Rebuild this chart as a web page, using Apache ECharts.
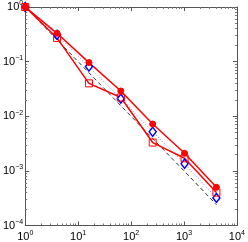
<!DOCTYPE html>
<html>
<head>
<meta charset="utf-8">
<script src="https://cdn.jsdelivr.net/npm/echarts@6/dist/echarts.min.js"></script>
<style>html,body{margin:0;padding:0;background:#fff}#c{width:248px;height:242px}</style>
</head>
<body>
<div id="c"></div>
<script>
var xValues = [1, 4, 16, 64, 256, 1024, 4096];
var seriesStar = [1, 0.33, 0.096, 0.029, 0.0072, 0.0021, 0.0005];
var seriesSquare = [1, 0.27, 0.040, 0.022, 0.0033, 0.0017, 0.0004];
var seriesDiamond = [1, 0.31, 0.081, 0.021, 0.0052, 0.00135, 0.00032];
var seriesRef = [1, 0.25, 0.0625, 0.0156, 0.0039, 0.00098, 0.00024];
var xMajorTicks = [1, 10, 100, 1000, 10000];
var yMajorTicks = [0.0001, 0.001, 0.01, 0.1, 1];
var xMinorTicks = [2,3,4,5,6,7,8,9,20,30,40,50,60,70,80,90,200,300,400,500,600,700,800,900,2000,3000,4000,5000,6000,7000,8000,9000];
var yMinorTicks = [0.0002,0.0003,0.0004,0.0005,0.0006,0.0007,0.0008,0.0009,0.002,0.003,0.004,0.005,0.006,0.007,0.008,0.009,0.02,0.03,0.04,0.05,0.06,0.07,0.08,0.09,0.2,0.3,0.4,0.5,0.6,0.7,0.8,0.9];

function pair(xs, ys) { return xs.map(function (x, i) { return [x, ys[i]]; }); }
function expLabel(v) {
  var e = Math.round(Math.log10(v));
  return '{b|10}{s|' + (e < 0 ? '\u2212' + (-e) : e) + '}';
}
var rich = {
  b: { fontSize: 11, fontFamily: 'Liberation Sans', color: '#000' },
  s: { fontSize: 7, fontFamily: 'Liberation Sans', color: '#000', verticalAlign: 'bottom', padding: [0, 0, 7, 0] }
};
var frame = { show: true, lineStyle: { color: '#555', width: 1 } };

function xAx(pos, opts) {
  return Object.assign({
    type: 'log', logBase: 10, min: 1, max: 10000, position: pos,
    axisLine: frame, splitLine: { show: false },
    axisTick: { show: true, inside: true, length: 4, lineStyle: { color: '#555' }, customValues: xMajorTicks },
    axisLabel: { show: false }
  }, opts);
}
function yAx(pos, opts) {
  return Object.assign({
    type: 'log', logBase: 10, min: 0.0001, max: 1, position: pos,
    axisLine: frame, splitLine: { show: false },
    axisTick: { show: true, inside: true, length: 4, lineStyle: { color: '#555' }, customValues: yMajorTicks },
    axisLabel: { show: false }
  }, opts);
}
var minorTickX = { show: true, inside: true, length: 2, lineStyle: { color: '#777' }, customValues: xMinorTicks };
var minorTickY = { show: true, inside: true, length: 2, lineStyle: { color: '#777' }, customValues: yMinorTicks };

var chart = echarts.init(document.getElementById('c'), null, { renderer: 'canvas' });
chart.setOption({
  animation: false,
  grid: { left: 21, right: 8, top: 7, bottom: 16, containLabel: false },
  xAxis: [
    xAx('bottom', { axisLabel: { show: true, customValues: xMajorTicks, formatter: expLabel, rich: rich, margin: 4 } }),
    xAx('top', {}),
    xAx('bottom', { axisLine: { show: false }, axisTick: minorTickX }),
    xAx('top', { axisLine: { show: false }, axisTick: minorTickX })
  ],
  yAxis: [
    yAx('left', { axisLabel: { show: true, customValues: yMajorTicks, formatter: expLabel, rich: rich, margin: 2 } }),
    yAx('right', {}),
    yAx('left', { axisLine: { show: false }, axisTick: minorTickY }),
    yAx('right', { axisLine: { show: false }, axisTick: minorTickY })
  ],
  series: [
    { type: 'line', data: pair(xValues, seriesRef), symbol: 'none',
      lineStyle: { color: '#333', width: 1, type: [4, 3] } },
    { type: 'line', data: pair(xValues, seriesDiamond), symbol: 'diamond', symbolSize: [7, 9],
      lineStyle: { color: '#7a7aff', width: 1, type: [1, 2] },
      itemStyle: { color: '#fff', borderColor: '#0000ff', borderWidth: 1.5 } },
    { type: 'line', data: pair(xValues, seriesSquare), symbol: 'rect', symbolSize: 7,
      lineStyle: { color: '#ff0000', width: 1.5 },
      itemStyle: { color: 'rgba(255,255,255,0)', borderColor: '#ff0000', borderWidth: 1 } },
    { type: 'line', data: pair(xValues, seriesStar), symbol: 'circle', symbolSize: 6,
      lineStyle: { color: '#ff0000', width: 1.5 },
      itemStyle: { color: '#ff0000', borderColor: '#ff0000', borderWidth: 1 } }
  ]
});
</script>
</body>
</html>
